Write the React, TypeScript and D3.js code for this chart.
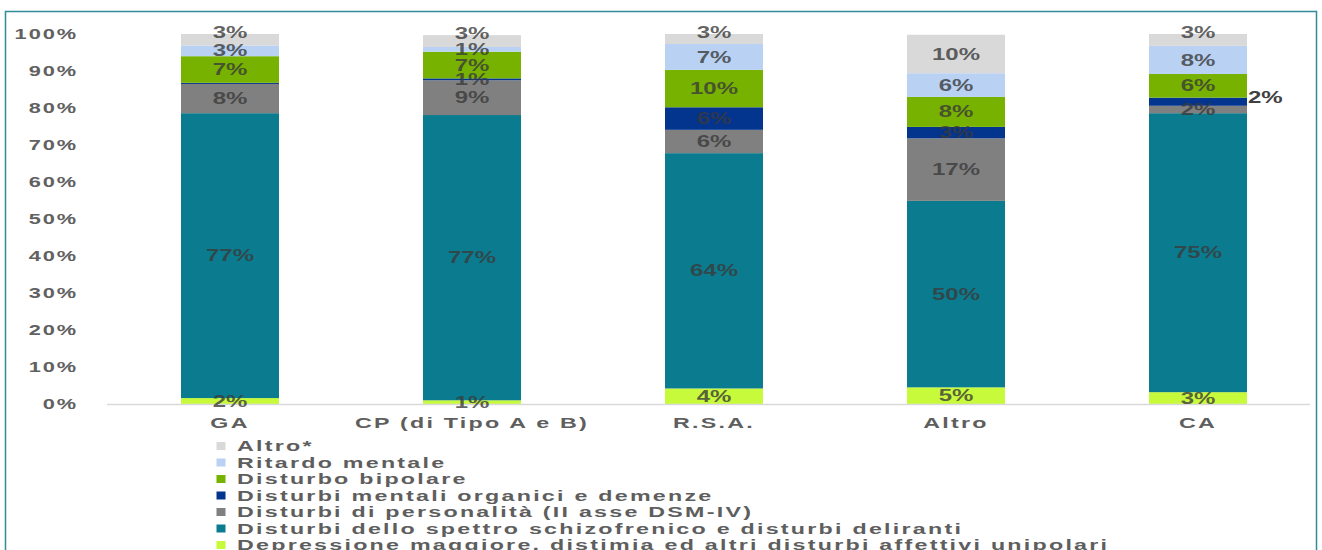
import React from 'react';
import * as d3 from 'd3';

// categories (x axis)
const categories = ['GA', 'CP (di Tipo A e B)', 'R.S.A.', 'Altro', 'CA'];

// series, bottom to top, values in % per category
const depressione = [1.6, 1.0, 4.2, 4.5, 3.2];
const schizofrenico = [77.0, 77.1, 63.6, 50.4, 75.4];
const personalita = [7.9, 9.4, 6.3, 16.9, 2.0];
const organici = [0.3, 0.5, 6.1, 3.1, 2.2];
const bipolare = [7.2, 7.2, 10.1, 8.1, 6.4];
const ritardo = [2.9, 1.3, 7.0, 6.4, 7.6];
const altro = [3.1, 3.2, 2.7, 10.4, 3.2];

const seriesKeys = ['dep', 'schizo', 'pers', 'org', 'bip', 'rit', 'altro'];
const seriesNames = [
  'Depressione maggiore, distimia ed altri disturbi affettivi unipolari',
  'Disturbi dello spettro schizofrenico e disturbi deliranti',
  'Disturbi di personalità (II asse DSM-IV)',
  'Disturbi mentali organici e demenze',
  'Disturbo bipolare',
  'Ritardo mentale',
  'Altro*',
];
const seriesColors = ['#c8fa3c', '#0b7c8f', '#808080', '#03348e', '#77b200', '#b9d1f2', '#d9d9d9'];
const seriesValues = [depressione, schizofrenico, personalita, organici, bipolare, ritardo, altro];

const yTicks = [0, 10, 20, 30, 40, 50, 60, 70, 80, 90, 100];

const W = 1322;
const H = 550;
const FONT = '"Liberation Sans", Arial, sans-serif';
const SX = 1.5; // text in the source is stretched horizontally

type Row = { [k: string]: number | string };

function Label(props: {
  x: number; y: number; text: string; size: number; fill: string;
  anchor?: 'start' | 'middle' | 'end'; spacing?: number; opacity?: number;
}) {
  const { x, y, text, size, fill, anchor = 'middle', spacing = 0, opacity = 1 } = props;
  return (
    <text
      transform={`translate(${x},${y}) scale(${SX},1)`}
      textAnchor={anchor}
      dy="0.35em"
      fontFamily={FONT}
      fontWeight="bold"
      fontSize={size}
      letterSpacing={spacing}
      fill={fill}
      fillOpacity={opacity}
    >
      {text}
    </text>
  );
}

export default function App() {
  const rows: Row[] = categories.map((c, i) => {
    const r: Row = { cat: c };
    seriesKeys.forEach((k, s) => { r[k] = seriesValues[s][i]; });
    return r;
  });

  const stack = d3.stack<Row>().keys(seriesKeys).value((d, k) => d[k] as number);
  const layers = stack(rows);

  const x = d3.scaleBand<string>()
    .domain(categories)
    .range([109, 1319])
    .paddingInner(0.595)
    .paddingOuter(0.2975);
  const y = d3.scaleLinear().domain([0, 100]).range([404, 34]);
  const bw = x.bandwidth();

  return (
    <svg width={W} height={H} style={{ position: 'absolute', left: 0, top: 0, background: '#fff' }}>
      {/* frame */}
      <rect x={5.5} y={11.5} width={1311} height={560} fill="#fff" stroke="#2f8c98" strokeWidth={1.5} />

      {/* y ticks */}
      {yTicks.map(t => (
        <Label key={t} x={78} y={y(t)} text={`${t}%`} size={14.5} fill="#616161" anchor="end" spacing={1.3} />
      ))}

      {/* bars */}
      {layers.map((layer, s) => (
        <g key={layer.key} fill={seriesColors[s]}>
          {layer.map((d, i) => (
            <rect
              key={i}
              x={x(categories[i])}
              y={y(d[1])}
              width={bw}
              height={Math.max(0, y(d[0]) - y(d[1]))}
            />
          ))}
        </g>
      ))}

      {/* baseline */}
      <line x1={107} x2={1310} y1={y(0) + 0.5} y2={y(0) + 0.5} stroke="#d9d9d9" strokeWidth={1.5} />

      {/* data labels */}
      {layers.map((layer, s) => layer.map((d, i) => {
        const v = d[1] - d[0];
        const r = Math.round(v);
        if (r === 0) return null;
        const cx = (x(categories[i]) as number) + bw / 2;
        let cy = (y(d[0]) + y(d[1])) / 2;
        // small top segments: label pushed above
        if (s === layers.length - 1 && v < 5) cy = y(d[1]) - 2;
        // CA organic: label outside on the right
        if (seriesKeys[s] === 'org' && categories[i] === 'CA') {
          return (
            <Label key={`${s}-${i}`} x={cx + bw / 2 + 1} y={cy - 4} text={`${r}%`} size={16} fill="#404040" anchor="start" />
          );
        }
        return (
          <Label key={`${s}-${i}`} x={cx} y={cy} text={`${r}%`} size={16} fill="#3a3a3a" opacity={0.8} />
        );
      }))}

      {/* x labels */}
      {categories.map(c => (
        <Label key={c} x={(x(c) as number) + bw / 2} y={423} text={c} size={15.5} fill="#5e5e5e" spacing={1.5} />
      ))}

      {/* legend, top item first */}
      {seriesNames.slice().reverse().map((name, j) => {
        const s = seriesNames.length - 1 - j;
        const ly = 446 + j * 16.5;
        return (
          <g key={name}>
            <rect x={216.5} y={ly - 4} width={9} height={8} fill={seriesColors[s]} />
            <Label x={237} y={ly} text={name} size={15.5} fill="#5e5e5e" anchor="start" spacing={1.5} />
          </g>
        );
      })}
    </svg>
  );
}
